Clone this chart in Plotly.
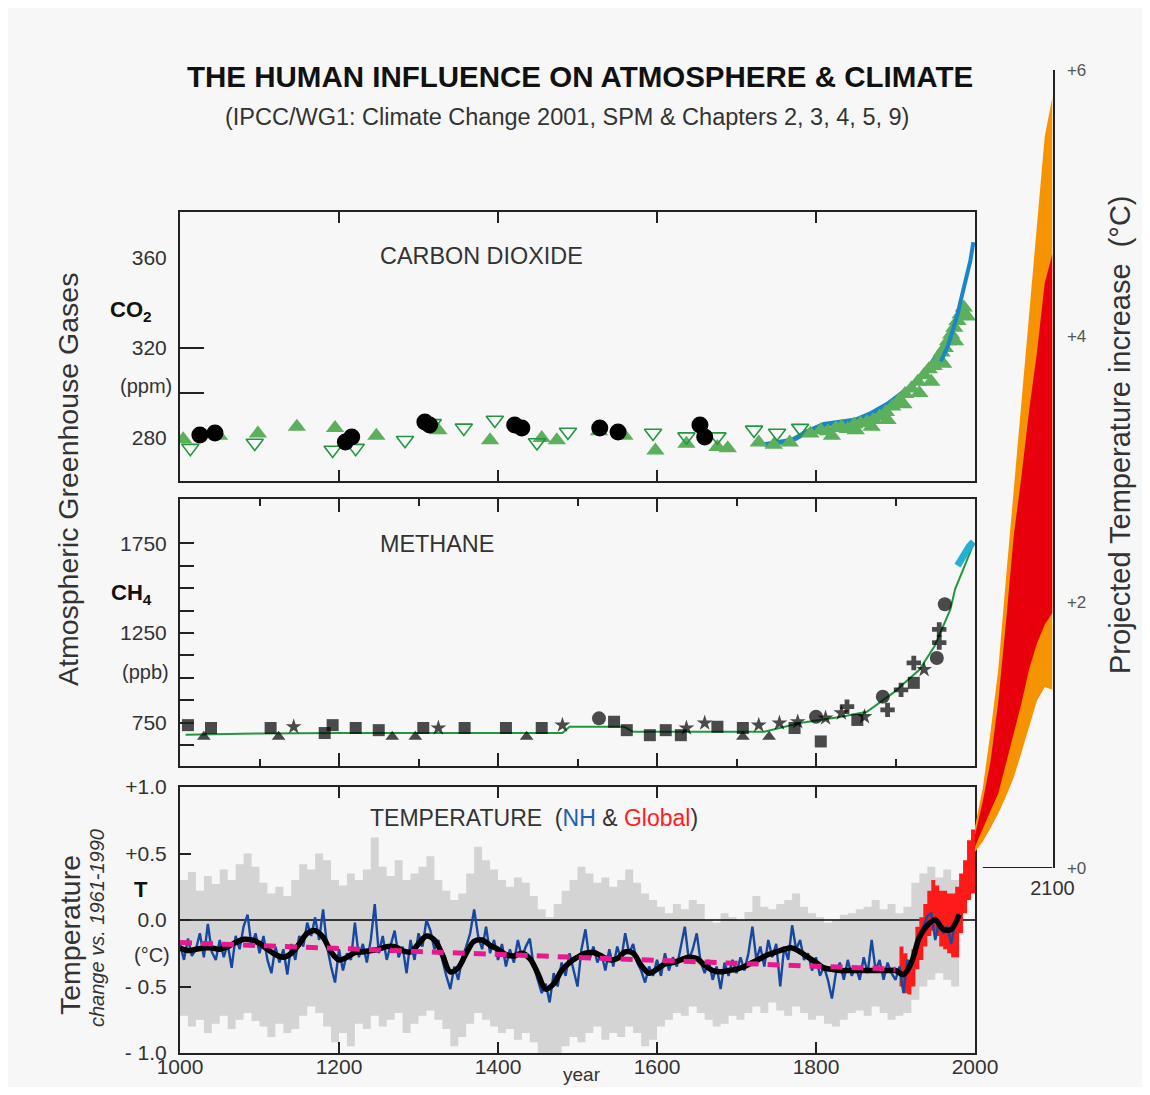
import plotly.graph_objects as go

# Figure is placed by the page with an 8 px body margin; reference pixel p maps to figure p-8
W, H = 1134, 1079
OFF = 8
def fx(p): return (p - OFF) / W
def fy(p): return 1 - (p - OFF) / H

FONT = "Liberation Sans, Arial, Helvetica, sans-serif"

# ---------------- CO2 data ----------------
co2_ice_years = [1004, 1049, 1098, 1147, 1195, 1247, 1325, 1390, 1455, 1474, 1527, 1559, 1598, 1637,
                 1676, 1689, 1728, 1747, 1767, 1793, 1806, 1815, 1820, 1825, 1832, 1840, 1848, 1850,
                 1856, 1864, 1870, 1872, 1880, 1888, 1890, 1896, 1904, 1910, 1912, 1920, 1928, 1930,
                 1936, 1942, 1945, 1948, 1954, 1958, 1960, 1962, 1966, 1970, 1974, 1975, 1978, 1982,
                 1986, 1990]
co2_ice_ppm = [279.5, 281, 282, 285, 284.5, 281, 283.5, 279, 280, 279, 283, 281, 274.5, 277.5,
               276, 275.5, 278, 277, 278, 282, 283.5, 283, 281, 284.5, 285, 284, 286, 283.5,
               286.5, 287, 285, 288, 289.5, 291.5, 288, 294, 296.5, 295, 299.5, 302, 305, 300,
               308, 310.5, 305, 312, 315, 318, 313, 320, 323, 326, 329, 323, 332, 335,
               338, 334]
co2_open_years = [1013, 1094, 1192, 1221, 1283, 1318, 1357, 1396, 1449, 1488, 1595, 1637, 1676, 1722, 1751, 1780]
co2_open_ppm = [275.5, 277.8, 274.7, 275.5, 279, 286.5, 284.5, 288, 278, 282.7, 282.2, 280.6, 280.6, 283.6, 282.2, 284.4]
co2_circ_years = [1025, 1044, 1208, 1216, 1308, 1314, 1421, 1430, 1528, 1551, 1654, 1660]
co2_circ_ppm = [281.3, 282.2, 278.2, 280.4, 287.1, 285.8, 285.8, 284.4, 284.4, 282.7, 285.8, 280.4]
co2_siple_years = [1735, 1750, 1770, 1790, 1810, 1830, 1850, 1870, 1890, 1905, 1920, 1935, 1945, 1953]
co2_siple_ppm = [277, 278, 279, 283, 286, 287, 288, 291, 295, 299, 303, 308, 313, 317]
co2_ml_years = [1957, 1962, 1966, 1970, 1974, 1978, 1982, 1986, 1990, 1994, 1998]
co2_ml_ppm = [314, 318, 321, 325.5, 330, 335, 341, 347, 354, 358.5, 367]

# ---------------- CH4 data ----------------
ch4_years = [1010, 1030, 1039, 1114, 1124, 1143, 1182, 1192, 1221, 1250, 1267, 1296, 1306, 1325, 1358,
             1410, 1436, 1455, 1481, 1527, 1546, 1562, 1591, 1611, 1630, 1637, 1660, 1676, 1708, 1708,
             1728, 1741, 1754, 1773, 1777, 1800, 1806, 1812, 1832, 1839, 1852, 1861, 1884, 1890, 1907,
             1923, 1923, 1936, 1952, 1955, 1955, 1962]
ch4_vals = [736, 671, 720, 720, 671, 727, 692, 736, 720, 708, 671, 671, 720, 720, 720,
            720, 671, 720, 736, 774, 755, 708, 680, 708, 680, 720, 748, 727, 671, 720,
            736, 671, 748, 720, 755, 783, 645, 776, 804, 839, 765, 783, 895, 821, 933,
            1083, 972, 1046, 1111, 1270, 1197, 1411]
ch4_kinds = ['s', 't', 's', 's', 't', '*', 's', 's', 's', 's', 't', 't', 's', '*', 's', 's', 't', 's', '*', 'o',
             's', 's', 's', 's', 's', '*', '*', 's', 't', 's', '*', 't', '*', 's', '*', 'o', 's', '*', '*', '+',
             's', '*', 'o', '+', '+', '+', 's', '*', 'o', '+', '+', 'o']
ch4_line_years = [1007, 1100, 1200, 1300, 1400, 1481, 1490, 1559, 1570, 1650, 1735, 1780, 1832, 1864,
                  1897, 1930, 1949, 1969, 1975, 1989, 1998]
ch4_line_vals = [682, 690, 692, 692, 692, 692, 727, 727, 699, 699, 699, 748, 783, 811,
                 916, 1045, 1176, 1382, 1495, 1647, 1748]
ch4_atm_years = [1978, 1983, 1988, 1993, 1998]
ch4_atm_vals = [1626, 1665, 1705, 1735, 1759]

# ---------------- Temperature data ----------------
nh_years = list(range(1000, 1985, 5))
nh_vals = [-0.18, -0.30, -0.14, -0.27, -0.22, -0.10, -0.28, -0.03, -0.24, -0.30,
           -0.15, -0.28, -0.18, -0.36, -0.12, -0.22, -0.05, 0.04, -0.20, -0.10,
           -0.25, -0.12, -0.30, -0.40, -0.20, -0.32, -0.22, -0.41, -0.18, -0.30,
           -0.12, -0.20, -0.02, -0.12, 0.02, -0.15, 0.08, -0.20, -0.35, -0.47,
           -0.22, -0.38, -0.25, -0.30, -0.02, -0.28, -0.18, -0.32, -0.15, 0.12,
           -0.25, -0.12, -0.30, -0.18, -0.08, -0.28, -0.20, -0.40, -0.15, -0.30,
           -0.10, -0.20, 0.00, -0.08, -0.22, -0.15, -0.30, -0.42, -0.52, -0.35,
           -0.45, -0.28, -0.20, -0.10, 0.08, -0.12, -0.22, -0.05, -0.25, -0.15,
           -0.30, -0.18, -0.35, -0.22, -0.32, -0.15, -0.28, -0.20, -0.14, -0.35,
           -0.45, -0.55, -0.48, -0.62, -0.40, -0.50, -0.32, -0.42, -0.25, -0.38,
           -0.50, -0.22, -0.07, -0.30, -0.20, -0.32, -0.25, -0.38, -0.22, -0.35,
           -0.20, -0.30, -0.10, -0.25, -0.18, -0.32, -0.38, -0.47, -0.35, -0.42,
           -0.30, -0.42, -0.25, -0.38, -0.28, -0.35, -0.20, -0.05, -0.30, -0.22,
           -0.10, -0.32, -0.40, -0.30, -0.45, -0.35, -0.52, -0.32, -0.42, -0.30,
           -0.40, -0.28, -0.38, -0.25, -0.05, -0.30, -0.20, -0.35, -0.15, -0.28,
           -0.18, -0.50, -0.20, -0.30, -0.04, -0.22, -0.15, -0.30, -0.25, -0.38,
           -0.28, -0.42, -0.35, -0.45, -0.59, -0.40, -0.32, -0.45, -0.30, -0.42,
           -0.35, -0.45, -0.28, -0.40, -0.15, -0.38, -0.30, -0.45, -0.32, -0.40,
           -0.45, -0.35, -0.55, -0.30, -0.35, -0.20, -0.15, -0.05, 0.03, 0.05,
           -0.15, 0.00, -0.10, -0.05, -0.18, -0.02, 0.05]

dec_years = list(range(1000, 1990, 10))
smooth_vals = [-0.21, -0.23, -0.22, -0.21, -0.21, -0.22, -0.20, -0.17, -0.145, -0.15,
               -0.175, -0.22, -0.26, -0.28, -0.25, -0.18, -0.10, -0.08, -0.13, -0.24,
               -0.30, -0.28, -0.245, -0.24, -0.23, -0.22, -0.20, -0.20, -0.23, -0.24,
               -0.18, -0.12, -0.15, -0.26, -0.39, -0.36, -0.25, -0.16, -0.15, -0.19,
               -0.22, -0.26, -0.27, -0.25, -0.29, -0.40, -0.52, -0.48, -0.38, -0.32,
               -0.28, -0.25, -0.245, -0.27, -0.30, -0.29, -0.24, -0.25, -0.34, -0.40,
               -0.37, -0.33, -0.32, -0.30, -0.28, -0.29, -0.34, -0.38, -0.39, -0.38,
               -0.37, -0.35, -0.32, -0.29, -0.26, -0.24, -0.22, -0.21, -0.24, -0.28,
               -0.32, -0.36, -0.37, -0.38, -0.38, -0.38, -0.38, -0.38, -0.38, -0.38,
               -0.38, -0.41, -0.32, -0.13, -0.04, 0.00, -0.07, -0.07, 0.04]
unc_upper = [0.30, 0.36, 0.22, 0.33, 0.27, 0.38, 0.30, 0.42, 0.50, 0.40,
             0.28, 0.20, 0.25, 0.18, 0.30, 0.42, 0.38, 0.50, 0.45, 0.30,
             0.26, 0.35, 0.30, 0.38, 0.62, 0.40, 0.33, 0.45, 0.30, 0.35,
             0.40, 0.48, 0.30, 0.22, 0.15, 0.20, 0.35, 0.55, 0.45, 0.38,
             0.30, 0.25, 0.32, 0.28, 0.18, 0.08, 0.02, 0.12, 0.22, 0.30,
             0.40, 0.35, 0.28, 0.32, 0.25, 0.30, 0.38, 0.28, 0.20, 0.15,
             0.10, 0.05, 0.12, 0.08, 0.15, 0.12, 0.00, -0.02, 0.05, 0.02,
             0.00, 0.06, 0.18, 0.10, 0.08, 0.12, 0.15, 0.20, 0.10, 0.05,
             0.02, -0.02, 0.00, 0.04, 0.05, 0.08, 0.10, 0.15, 0.08, 0.12,
             0.05, 0.10, 0.28, 0.35, 0.40, 0.32, 0.38, 0.30, 0.35]
unc_lower = [-0.72, -0.80, -0.75, -0.85, -0.78, -0.72, -0.82, -0.75, -0.70, -0.76,
             -0.80, -0.88, -0.78, -0.85, -0.82, -0.72, -0.65, -0.70, -0.80, -0.92,
             -0.85, -0.95, -0.78, -0.82, -0.72, -0.80, -0.75, -0.70, -0.85, -0.78,
             -0.72, -0.68, -0.75, -0.82, -0.95, -0.88, -0.78, -0.70, -0.75, -0.80,
             -0.85, -0.82, -0.90, -0.85, -0.92, -1.00, -1.10, -1.05, -0.95, -0.88,
             -0.92, -0.85, -0.80, -0.90, -0.85, -0.88, -0.80, -0.85, -0.95, -0.90,
             -0.80, -0.75, -0.70, -0.72, -0.65, -0.70, -0.75, -0.80, -0.78, -0.72,
             -0.75, -0.70, -0.65, -0.70, -0.62, -0.68, -0.72, -0.65, -0.70, -0.75,
             -0.72, -0.78, -0.80, -0.75, -0.70, -0.68, -0.72, -0.65, -0.70, -0.75,
             -0.72, -0.70, -0.60, -0.50, -0.45, -0.40, -0.45, -0.50, -0.40]
trend_years = [1000, 1900]
trend_vals = [-0.17, -0.37]

glob_years = list(range(1905, 2005, 5))
glob_upper = [-0.20, -0.25, -0.30, -0.22, -0.05, 0.02, 0.12, 0.22, 0.30, 0.26,
              0.22, 0.22, 0.20, 0.20, 0.25, 0.35, 0.45, 0.60, 0.68, 0.68]
glob_lower = [-0.50, -0.55, -0.56, -0.50, -0.37, -0.30, -0.20, -0.12, -0.08, -0.12,
              -0.20, -0.22, -0.25, -0.28, -0.28, -0.10, 0.05, 0.15, 0.20, 0.30]

# ---------------- Projection data ----------------
proj_years = [2000, 2010, 2020, 2030, 2040, 2050, 2060, 2070, 2080, 2090, 2100]
proj_full_upper = [0.31, 0.60, 1.02, 1.49, 2.18, 2.84, 3.52, 4.20, 4.87, 5.50, 5.80]
proj_full_lower = [0.12, 0.20, 0.30, 0.41, 0.54, 0.68, 0.87, 1.06, 1.26, 1.36, 1.34]
proj_env_upper = [0.25, 0.50, 0.80, 1.25, 1.85, 2.50, 2.95, 3.45, 3.88, 4.40, 4.62]
proj_env_lower = [0.16, 0.30, 0.43, 0.56, 0.78, 1.00, 1.24, 1.50, 1.69, 1.83, 1.92]

# ---------------- Colours ----------------
GREEN = '#5caf5c'
DKGREEN = '#249640'
BLUE_CO2 = '#1a86c8'
NH_BLUE = '#17479e'
GREY = '#d4d4d4'
MAGENTA = '#e8198f'
OBS_RED = '#ff1a1a'
FAN_RED = '#e8000c'
ORANGE = '#f59300'
AXC = '#222222'
TXT = '#333333'

fig = go.Figure()

# CO2 panel
fig.add_trace(go.Scatter(x=co2_siple_years, y=co2_siple_ppm, mode='lines', xaxis='x', yaxis='y',
                         line=dict(color=BLUE_CO2, width=5)))
fig.add_trace(go.Scatter(x=co2_ice_years, y=co2_ice_ppm, mode='markers', xaxis='x', yaxis='y',
                         marker=dict(symbol='triangle-up', size=16, color=GREEN, line=dict(width=0))))
fig.add_trace(go.Scatter(x=co2_open_years, y=co2_open_ppm, mode='markers', xaxis='x', yaxis='y',
                         marker=dict(symbol='triangle-down-open', size=15, color=DKGREEN, line=dict(width=1.6))))
fig.add_trace(go.Scatter(x=co2_circ_years, y=co2_circ_ppm, mode='markers', xaxis='x', yaxis='y',
                         marker=dict(symbol='circle', size=17, color='black')))
fig.add_trace(go.Scatter(x=co2_ml_years, y=co2_ml_ppm, mode='lines', xaxis='x', yaxis='y',
                         line=dict(color=BLUE_CO2, width=4)))

# CH4 panel
sym_map = {'s': 'square', 't': 'triangle-up', '*': 'star', 'o': 'circle', '+': 'cross'}
fig.add_trace(go.Scatter(x=ch4_line_years, y=ch4_line_vals, mode='lines', xaxis='x2', yaxis='y2',
                         line=dict(color=DKGREEN, width=2)))
fig.add_trace(go.Scatter(x=ch4_years, y=ch4_vals, mode='markers', xaxis='x2', yaxis='y2',
                         marker=dict(symbol=[sym_map[k] for k in ch4_kinds],
                                     size=[14 if k == 'o' else 12 for k in ch4_kinds],
                                     color='black', line=dict(width=0))))
fig.add_trace(go.Scatter(x=ch4_atm_years, y=ch4_atm_vals, mode='lines', xaxis='x2', yaxis='y2',
                         line=dict(color='#25b0d2', width=7)))

# Temperature panel
fig.add_trace(go.Scatter(x=dec_years, y=unc_lower, mode='lines', xaxis='x3', yaxis='y3',
                         line=dict(width=0, shape='hv', color=GREY)))
fig.add_trace(go.Scatter(x=dec_years, y=unc_upper, mode='lines', xaxis='x3', yaxis='y3',
                         line=dict(width=0, shape='hv', color=GREY), fill='tonexty', fillcolor=GREY))
fig.add_trace(go.Scatter(x=[1000, 2000], y=[0, 0], mode='lines', xaxis='x3', yaxis='y3',
                         line=dict(color='black', width=1.6)))
fig.add_trace(go.Scatter(x=glob_years, y=glob_lower, mode='lines', xaxis='x3', yaxis='y3',
                         line=dict(width=0, shape='hv', color=OBS_RED)))
fig.add_trace(go.Scatter(x=glob_years, y=glob_upper, mode='lines', xaxis='x3', yaxis='y3',
                         line=dict(width=0, shape='hv', color=OBS_RED), fill='tonexty', fillcolor=OBS_RED))
fig.add_trace(go.Scatter(x=nh_years, y=nh_vals, mode='lines', xaxis='x3', yaxis='y3',
                         line=dict(color=NH_BLUE, width=2.4)))
fig.add_trace(go.Scatter(x=dec_years, y=smooth_vals, mode='lines', xaxis='x3', yaxis='y3',
                         line=dict(color='black', width=5.5, shape='spline')))
fig.add_trace(go.Scatter(x=trend_years, y=trend_vals, mode='lines', xaxis='x3', yaxis='y3',
                         line=dict(color=MAGENTA, width=5, dash='12px,9px')))

# Projection fan
fig.add_trace(go.Scatter(x=proj_years, y=proj_full_lower, mode='lines', xaxis='x4', yaxis='y4',
                         line=dict(width=0, color=ORANGE)))
fig.add_trace(go.Scatter(x=proj_years, y=proj_full_upper, mode='lines', xaxis='x4', yaxis='y4',
                         line=dict(width=0, color=ORANGE), fill='tonexty', fillcolor=ORANGE))
fig.add_trace(go.Scatter(x=proj_years, y=proj_env_lower, mode='lines', xaxis='x4', yaxis='y4',
                         line=dict(width=0, color=FAN_RED)))
fig.add_trace(go.Scatter(x=proj_years, y=proj_env_upper, mode='lines', xaxis='x4', yaxis='y4',
                         line=dict(width=0, color=FAN_RED), fill='tonexty', fillcolor=FAN_RED))

XD = [fx(180), fx(975)]
common_x = dict(domain=XD, range=[1000, 2000], showgrid=False, zeroline=False, showline=True,
                linecolor=AXC, linewidth=2, mirror='ticks', ticks='inside', tickcolor=AXC,
                tickwidth=2)
common_y = dict(showgrid=False, zeroline=False, showline=True, linecolor=AXC, linewidth=2,
                mirror=True, tickcolor=AXC, tickwidth=2, tickfont=dict(size=21, color=TXT),
                ticklabelstandoff=7)

layout = dict(
    width=W, height=H, autosize=False, showlegend=False,
    margin=dict(l=0, r=0, t=0, b=0, pad=0, autoexpand=False),
    paper_bgcolor='#f7f7f7', plot_bgcolor='rgba(0,0,0,0)',
    font=dict(family=FONT, color=TXT),
    xaxis=dict(common_x, anchor='y', tickvals=[1200, 1400, 1600, 1800], ticklen=11, showticklabels=False),
    yaxis=dict(common_y, anchor='x', domain=[fy(481), fy(212)], range=[260.9, 380.4],
               tickvals=[280, 320, 360], ticks='',
               minor=dict(tickmode='array', tickvals=[300, 320], ticks='inside', ticklen=24,
                          tickwidth=2, tickcolor=AXC)),
    xaxis2=dict(common_x, anchor='y2', tickvals=[1200, 1400, 1600, 1800], ticklen=13, showticklabels=False,
                minor=dict(tickmode='array', tickvals=[1100, 1300, 1500, 1700, 1900], ticks='inside',
                           ticklen=7, tickwidth=2, tickcolor=AXC)),
    yaxis2=dict(common_y, anchor='x2', domain=[fy(766), fy(499)], range=[508, 1998],
                tickvals=[750, 1250, 1750], ticks='inside', ticklen=14,
                minor=dict(tickmode='array', tickvals=[625, 875, 1000, 1125, 1375, 1500, 1625],
                           ticks='inside', ticklen=14, tickwidth=2, tickcolor=AXC)),
    xaxis3=dict(common_x, anchor='y3', tickvals=[1000, 1200, 1400, 1600, 1800, 2000], ticklen=11,
                tickfont=dict(size=21, color=TXT), ticklabelstandoff=-6),
    yaxis3=dict(common_y, anchor='x3', domain=[fy(1053), fy(787)], range=[-1.0, 1.0],
                tickvals=[-1, -0.5, 0, 0.5, 1], ticktext=['- 1.0', '- 0.5', '0.0', '+0.5', '+1.0'],
                ticks='inside', ticklen=11),
    xaxis4=dict(domain=[fx(975), fx(1052.5)], range=[2000, 2100], anchor='y4', showgrid=False,
                zeroline=False, showline=False, ticks='', tickvals=[2100], ticktext=['2100'],
                tickfont=dict(size=20, color=TXT), ticklabelstandoff=6),
    yaxis4=dict(domain=[fy(868), fy(70)], range=[0, 6], anchor='x4', side='right', showgrid=False,
                zeroline=False, showline=True, linecolor=AXC, linewidth=2, ticks='',
                tickvals=[0, 2, 4, 6], ticktext=['+0', '+2', '+4', '+6'],
                tickfont=dict(size=17, color='#555555'), ticklabelstandoff=9),
)
fig.update_layout(**layout)

# frame decoration: bottom line of the projection box
fig.add_shape(type='line', xref='x4', yref='y4', x0=2010, x1=2100, y0=0, y1=0,
              line=dict(color=AXC, width=2))

def ann(text, x, y, size, xanchor='center', yanchor='middle', angle=0, color=TXT):
    fig.add_annotation(text=text, x=fx(x), y=fy(y), xref='paper', yref='paper', showarrow=False,
                       xanchor=xanchor, yanchor=yanchor, textangle=angle,
                       font=dict(family=FONT, size=size, color=color))

ann('<b>THE HUMAN INFLUENCE ON ATMOSPHERE &amp; CLIMATE</b>', 580, 77, 29.5, color='#111111')
ann('(IPCC/WG1: Climate Change 2001, SPM &amp; Chapters 2, 3, 4, 5, 9)', 567, 117, 23.5)
ann('CARBON DIOXIDE', 378, 256, 23.4, xanchor='left')
ann('METHANE', 378, 544, 23.4, xanchor='left')
ann('TEMPERATURE  (<span style="color:#1f5fb0">NH</span> &amp; '
    '<span style="color:#ff2020">Global</span>)', 368, 818, 23, xanchor='left')
ann('<b>CO<sub>2</sub></b>', 131, 311, 22, color='#111111')
ann('(ppm)', 146, 386, 20)
ann('<b>CH<sub>4</sub></b>', 131, 594, 22, color='#111111')
ann('(ppb)', 145, 672, 20)
ann('<b>T</b>', 141, 889, 22, color='#111111')
ann('(°C)', 152, 955, 20)
ann('Atmospheric Greenhouse Gases', 68, 480, 28.5, angle=-90)
ann('Temperature', 70, 935, 28.5, angle=-90)
ann('<i>change vs. 1961-1990</i>', 97, 928, 20, angle=-90)
ann('year', 582, 1074, 19)
ann('Projected Temperature increase  (°C)', 1120, 435, 29, angle=-90)

fig.write_html('out.html')
